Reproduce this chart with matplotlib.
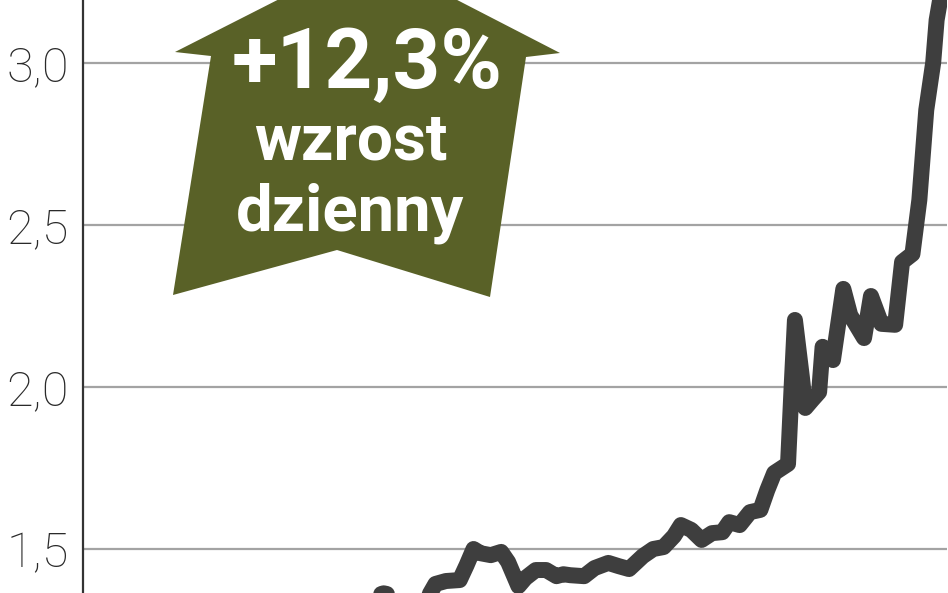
import matplotlib
matplotlib.use("Agg")
import matplotlib.pyplot as plt
from matplotlib.patches import Polygon

# kurs (zl) - dni sesyjne
days = [80, 84, 87, 91, 95, 99, 102, 105, 109, 111, 113, 115, 118, 121, 123,
        126, 128, 131, 134, 137, 139, 141, 145, 148, 152, 155, 158, 162, 165,
        168, 171, 173, 176, 179, 182, 185, 187, 190, 193, 196, 198, 200, 204,
        205, 206, 208, 209, 211, 213, 214, 217, 220, 222, 226, 228, 231, 235,
        237, 240, 242, 244, 246, 247, 249]
price = [1.300, 1.353, 1.362, 1.353, 1.310, 1.335, 1.391, 1.400, 1.403, 1.449,
         1.499, 1.486, 1.480, 1.490, 1.459, 1.384, 1.409, 1.434, 1.434, 1.415,
         1.421, 1.418, 1.415, 1.440, 1.456, 1.446, 1.437, 1.477, 1.499, 1.505,
         1.539, 1.573, 1.558, 1.527, 1.548, 1.551, 1.582, 1.573, 1.613, 1.620,
         1.681, 1.734, 1.762, 1.991, 2.207, 2.031, 1.935, 1.960, 1.984, 2.124,
         2.083, 2.303, 2.222, 2.151, 2.281, 2.195, 2.192, 2.386, 2.411, 2.578,
         2.856, 3.002, 3.134, 3.258]

yticks = [1.5, 2.0, 2.5, 3.0]
ytick_labels = ["1,5", "2,0", "2,5", "3,0"]

badge_lines = ["+12,3%", "wzrost", "dzienny"]

fig = plt.figure(figsize=(9.48, 5.93), dpi=100)
ax = fig.add_axes([83/948, 0, 864/948, 1])

ax.plot(days, price, color="#3e3e3e", lw=11.5, solid_joinstyle="round",
        solid_capstyle="round", zorder=3)

ax.set_xlim(0, 250)
ax.set_ylim(1.363, 3.196)
ax.set_yticks(yticks)
ax.set_yticklabels(ytick_labels, fontfamily="Roboto", fontweight="light",
                   fontsize=35, color="#2a2a2a")
ax.tick_params(axis="y", length=0, pad=10)
ax.set_xticks([])
ax.grid(axis="y", color="#a3a3a3", lw=1.6, zorder=1)

for s in ["top", "right", "bottom"]:
    ax.spines[s].set_visible(False)
ax.spines["left"].set_color("#333333")
ax.spines["left"].set_linewidth(1.6)

# zielona strzalka z opisem (wspolrzedne w ulamkach osi)
def fx(px):
    return (px - 83) / 864.0

def fy(py):
    return (593 - py) / 593.0

arrow_pts = [(368, -46), (560, 53), (526, 57), (490, 297), (337, 250),
             (173, 295), (211, 56), (175, 52)]
arrow = Polygon([(fx(a), fy(b)) for a, b in arrow_pts], closed=True,
                transform=ax.transAxes, facecolor="#596127", edgecolor="none",
                zorder=4, clip_on=False)
ax.add_patch(arrow)

ax.text(fx(367), fy(88), badge_lines[0], transform=ax.transAxes,
        ha="center", va="baseline", fontsize=60, fontweight="bold",
        fontfamily="Roboto", color="white", zorder=5)
ax.text(fx(351), fy(160), badge_lines[1], transform=ax.transAxes,
        ha="center", va="baseline", fontsize=46, fontweight="bold",
        fontfamily="Roboto", color="white", zorder=5)
ax.text(fx(350), fy(230), badge_lines[2], transform=ax.transAxes,
        ha="center", va="baseline", fontsize=47, fontweight="bold",
        fontfamily="Roboto", color="white", zorder=5)

fig.savefig("out.png", dpi=100)
